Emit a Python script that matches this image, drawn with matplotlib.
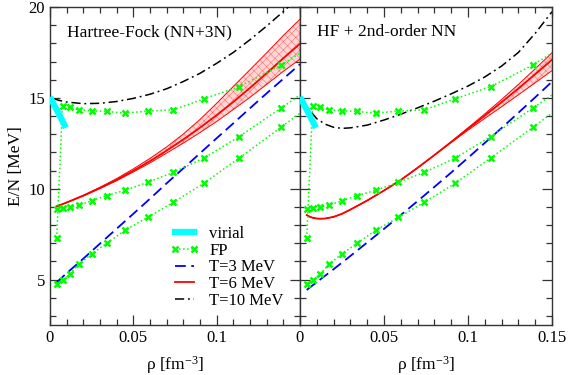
import matplotlib
matplotlib.use("Agg")
import matplotlib.pyplot as plt
from matplotlib.ticker import MultipleLocator, FixedLocator, FuncFormatter
from matplotlib.lines import Line2D

plt.rcParams['font.family'] = ['Liberation Serif', 'DejaVu Serif']
plt.rcParams['mathtext.fontset'] = 'custom'
plt.rcParams['mathtext.rm'] = 'Liberation Serif'
plt.rcParams['mathtext.it'] = 'Liberation Serif:italic'
plt.rcParams['hatch.linewidth'] = 0.3

# ---------------- data ----------------
rho_grid = [0.004, 0.01, 0.02, 0.03, 0.04, 0.05, 0.06, 0.07, 0.08, 0.09,
            0.10, 0.11, 0.12, 0.13, 0.14, 0.15]

# virial
rho_vir = [0.0, 0.0025, 0.005, 0.0075, 0.0095]
E_vir = [15.05, 14.6, 14.17, 13.72, 13.35]

# FP reference (same in both panels)
rho_fp = [0.004, 0.0075, 0.012, 0.0175, 0.025, 0.034, 0.045, 0.0585, 0.074,
          0.0925, 0.1135, 0.1385, 0.168]
E_fp_T3 = [4.78, 4.96, 5.31, 5.86, 6.41, 7.0, 7.71, 8.42, 9.25, 10.31, 11.69, 13.37, 15.4]
E_fp_T6 = [8.9, 8.94, 9.0, 9.1, 9.34, 9.62, 9.91, 10.35, 10.9, 11.69, 12.87, 14.43, 16.3]
E_fp_T10 = [7.29, 14.56, 14.47, 14.34, 14.29, 14.25, 14.16, 14.27, 14.34, 14.95, 15.62, 16.8, 18.5]

# Left panel: Hartree-Fock (NN+3N)
hf_T3 = [4.85, 5.35, 6.15, 6.98, 7.8, 8.62, 9.45, 10.3, 11.12, 11.95,
         12.78, 13.6, 14.43, 15.25, 16.05, 16.85]
hf_T6 = [9.03, 9.24, 9.62, 10.04, 10.49, 10.99, 11.52, 12.10, 12.71, 13.36,
         14.05, 14.78, 15.55, 16.36, 17.18, 17.98]
hf_T6_hi = [9.03, 9.25, 9.64, 10.08, 10.56, 11.09, 11.67, 12.30, 13.01, 13.81,
            14.70, 15.63, 16.55, 17.48, 18.43, 19.33]
hf_T6_lo = [9.03, 9.23, 9.60, 10.01, 10.44, 10.92, 11.42, 11.96, 12.51, 13.09,
            13.70, 14.36, 15.03, 15.74, 16.46, 17.13]
rho_T10_hf = [0.002, 0.005, 0.01, 0.02, 0.03, 0.04, 0.05, 0.06, 0.07, 0.08,
              0.09, 0.10, 0.11, 0.12, 0.13, 0.14, 0.15]
hf_T10 = [14.97, 14.87, 14.77, 14.68, 14.7, 14.8, 14.97, 15.2, 15.5, 15.9,
          16.35, 16.9, 17.5, 18.2, 18.95, 19.75, 20.6]

# Right panel: HF + 2nd-order NN
so_T3 = [4.43, 4.86, 5.57, 6.30, 7.04, 7.79, 8.55, 9.32, 10.10, 10.89,
         11.70, 12.52, 13.34, 14.18, 15.03, 15.89]
rho_T6_so = [0.004, 0.006, 0.008, 0.01, 0.012, 0.015, 0.02, 0.025, 0.03, 0.04,
             0.05, 0.06, 0.07, 0.08, 0.09, 0.10, 0.11, 0.12, 0.13, 0.14, 0.15]
so_T6 = [8.55, 8.45, 8.39, 8.36, 8.35, 8.36, 8.45, 8.62, 8.85, 9.35,
         9.9, 10.48, 11.15, 11.85, 12.57, 13.3, 14.02, 14.76, 15.52, 16.3, 17.1]
so_T6_hi = [8.55, 8.45, 8.39, 8.36, 8.35, 8.36, 8.45, 8.62, 8.85, 9.35,
            9.9, 10.48, 11.15, 11.85, 12.59, 13.35, 14.12, 14.91, 15.74, 16.6, 17.48]
so_T6_lo = [8.55, 8.45, 8.39, 8.36, 8.35, 8.36, 8.45, 8.62, 8.85, 9.35,
            9.9, 10.48, 11.15, 11.85, 12.54, 13.22, 13.87, 14.51, 15.17, 15.83, 16.5]
rho_T10_so = [0.0, 0.005, 0.01, 0.015, 0.02, 0.025, 0.03, 0.04, 0.05, 0.06,
              0.07, 0.08, 0.09, 0.10, 0.11, 0.12, 0.13, 0.14, 0.15]
so_T10 = [15.0, 14.4, 13.85, 13.55, 13.38, 13.32, 13.35, 13.5, 13.78, 14.1,
          14.45, 14.82, 15.22, 15.65, 16.15, 16.75, 17.5, 18.55, 19.74]

titles = ["Hartree-Fock (NN+3N)", "HF + 2nd-order NN"]
xticks_left = [0, 0.05, 0.1]
xticks_right = [0, 0.05, 0.1, 0.15]
yticks = [5, 10, 15, 20]
labels = ['virial', 'FP', 'T=3 MeV', 'T=6 MeV', 'T=10 MeV']

# ---------------- figure ----------------
fig = plt.figure(figsize=(5.68, 3.75), dpi=100)
axL = fig.add_axes([50/568, 50/375, 250/568, 318/375])
axR = fig.add_axes([300/568, 50/375, 252/568, 318/375])

green = '#00ff00'
fs = 12
dash_b = (0, (6, 3))
dash_k = (0, (6, 2.5, 1.2, 2.5))


def draw(ax, T3, rT6, T6, T6hi, T6lo, rT10, T10, title):
    ax.plot(rho_vir, E_vir, color='cyan', lw=4.5, solid_capstyle='butt', zorder=5)
    for E in (E_fp_T3, E_fp_T6, E_fp_T10):
        ax.plot(rho_fp, E, color=green, ls=':', lw=1.1, marker='x', ms=4.5,
                mew=1.8, zorder=4)
    ax.fill_between(rT6, T6lo, T6hi, facecolor='#ffd6d6', edgecolor='#ff5050',
                    hatch='xxxx', lw=0, zorder=2)
    ax.plot(rT6, T6hi, color='red', lw=0.7, zorder=3)
    ax.plot(rT6, T6lo, color='red', lw=0.7, zorder=3)
    ax.plot(rT6, T6, color='red', lw=1.3, zorder=3)
    ax.plot(rho_grid, T3, color='blue', ls=dash_b, lw=1.3, zorder=3)
    ax.plot(rT10, T10, color='black', ls=dash_k, lw=1.1, zorder=3)
    ax.text(0.068, 0.921, title, transform=ax.transAxes, fontsize=12.5,
            va='center', ha='left')
    ax.set_xlim(0, 0.15)
    ax.set_ylim(2.5, 20)
    ax.yaxis.set_major_locator(FixedLocator(yticks))
    ax.yaxis.set_minor_locator(MultipleLocator(1))
    ax.xaxis.set_minor_locator(MultipleLocator(0.01))
    ax.tick_params(which='both', direction='in', top=True, right=True,
                   labelsize=fs, color='#333333')
    ax.tick_params(which='major', length=7, width=0.9)
    ax.tick_params(which='minor', length=4, width=0.9)
    for s in ax.spines.values():
        s.set_color('#333333')
        s.set_linewidth(1.0)
    ax.set_xlabel(r'ρ [fm$^{-3}$]', fontsize=12.5, labelpad=6)


fmt = FuncFormatter(lambda v, p: '0' if abs(v) < 1e-9 else ('%g' % v))

draw(axL, hf_T3, rho_grid, hf_T6, hf_T6_hi, hf_T6_lo, rho_T10_hf, hf_T10, titles[0])
draw(axR, so_T3, rho_T6_so, so_T6, so_T6_hi, so_T6_lo, rho_T10_so, so_T10, titles[1])

axL.xaxis.set_major_locator(FixedLocator(xticks_left))
axR.xaxis.set_major_locator(FixedLocator(xticks_right))
axL.xaxis.set_major_formatter(fmt)
axR.xaxis.set_major_formatter(fmt)
axR.tick_params(labelleft=False)
axL.set_ylabel('E/N [MeV]', fontsize=12.5, va='center')
axL.yaxis.set_label_coords(-0.138, 0.5)

# legend
handles = [
    Line2D([], [], color='cyan', lw=4.5),
    Line2D([], [], color=green, ls=':', lw=1.1, marker='x', ms=4.5, mew=1.8),
    Line2D([], [], color='blue', ls=dash_b, lw=1.3),
    Line2D([], [], color='red', lw=1.3),
    Line2D([], [], color='black', ls=dash_k, lw=1.1),
]
axL.legend(handles, labels, loc='upper left', bbox_to_anchor=(0.48, 0.312),
           frameon=False, fontsize=fs, handlelength=1.75, handletextpad=0.6,
           labelspacing=0.05, borderpad=0, borderaxespad=0, numpoints=2)

fig.savefig('out.png', dpi=100)
